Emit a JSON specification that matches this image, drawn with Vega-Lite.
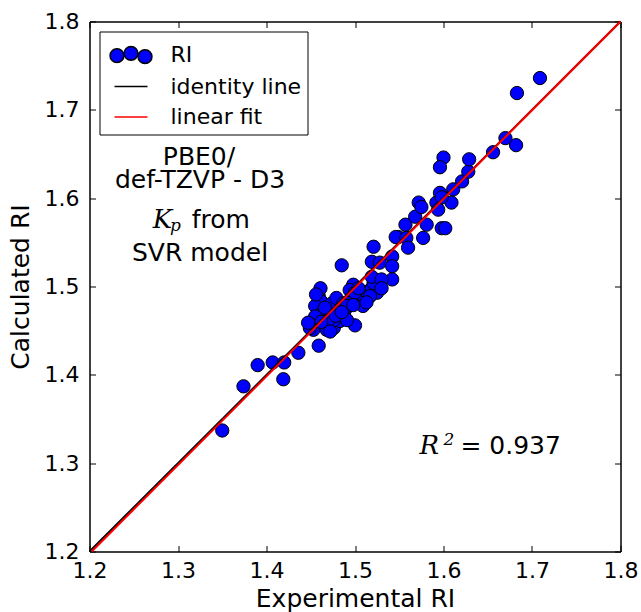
{
  "$schema": "https://vega.github.io/schema/vega-lite/v6.json",
  "width": 531,
  "height": 530,
  "autosize": "none",
  "padding": {"left": 89.5, "top": 21.5, "right": 20, "bottom": 60},
  "background": "white",
  "config": {"view": {"stroke": null}, "font": "DejaVu Sans", "axis": {"grid": false}},
  "datasets": {
    "points": [
      {"experimental": 1.350, "calculated": 1.337},
      {"experimental": 1.374, "calculated": 1.387},
      {"experimental": 1.390, "calculated": 1.411},
      {"experimental": 1.407, "calculated": 1.414},
      {"experimental": 1.420, "calculated": 1.414},
      {"experimental": 1.419, "calculated": 1.395},
      {"experimental": 1.436, "calculated": 1.425},
      {"experimental": 1.459, "calculated": 1.433},
      {"experimental": 1.485, "calculated": 1.524},
      {"experimental": 1.500, "calculated": 1.456},
      {"experimental": 1.459, "calculated": 1.489},
      {"experimental": 1.462, "calculated": 1.483},
      {"experimental": 1.455, "calculated": 1.478},
      {"experimental": 1.464, "calculated": 1.472},
      {"experimental": 1.455, "calculated": 1.466},
      {"experimental": 1.459, "calculated": 1.457},
      {"experimental": 1.453, "calculated": 1.451},
      {"experimental": 1.468, "calculated": 1.451},
      {"experimental": 1.476, "calculated": 1.453},
      {"experimental": 1.483, "calculated": 1.461},
      {"experimental": 1.481, "calculated": 1.470},
      {"experimental": 1.474, "calculated": 1.481},
      {"experimental": 1.479, "calculated": 1.487},
      {"experimental": 1.487, "calculated": 1.481},
      {"experimental": 1.489, "calculated": 1.474},
      {"experimental": 1.496, "calculated": 1.483},
      {"experimental": 1.506, "calculated": 1.493},
      {"experimental": 1.511, "calculated": 1.487},
      {"experimental": 1.513, "calculated": 1.494},
      {"experimental": 1.519, "calculated": 1.498},
      {"experimental": 1.525, "calculated": 1.493},
      {"experimental": 1.521, "calculated": 1.504},
      {"experimental": 1.519, "calculated": 1.511},
      {"experimental": 1.498, "calculated": 1.502},
      {"experimental": 1.494, "calculated": 1.496},
      {"experimental": 1.449, "calculated": 1.453},
      {"experimental": 1.447, "calculated": 1.459},
      {"experimental": 1.476, "calculated": 1.462},
      {"experimental": 1.470, "calculated": 1.462},
      {"experimental": 1.491, "calculated": 1.462},
      {"experimental": 1.461, "calculated": 1.498},
      {"experimental": 1.456, "calculated": 1.491},
      {"experimental": 1.509, "calculated": 1.478},
      {"experimental": 1.491, "calculated": 1.478},
      {"experimental": 1.517, "calculated": 1.489},
      {"experimental": 1.500, "calculated": 1.493},
      {"experimental": 1.504, "calculated": 1.498},
      {"experimental": 1.466, "calculated": 1.476},
      {"experimental": 1.478, "calculated": 1.467},
      {"experimental": 1.485, "calculated": 1.471},
      {"experimental": 1.472, "calculated": 1.449},
      {"experimental": 1.498, "calculated": 1.479},
      {"experimental": 1.513, "calculated": 1.482},
      {"experimental": 1.462, "calculated": 1.460},
      {"experimental": 1.521, "calculated": 1.545},
      {"experimental": 1.519, "calculated": 1.528},
      {"experimental": 1.528, "calculated": 1.527},
      {"experimental": 1.542, "calculated": 1.534},
      {"experimental": 1.542, "calculated": 1.523},
      {"experimental": 1.542, "calculated": 1.508},
      {"experimental": 1.530, "calculated": 1.508},
      {"experimental": 1.530, "calculated": 1.498},
      {"experimental": 1.549, "calculated": 1.556},
      {"experimental": 1.546, "calculated": 1.556},
      {"experimental": 1.558, "calculated": 1.555},
      {"experimental": 1.560, "calculated": 1.544},
      {"experimental": 1.557, "calculated": 1.570},
      {"experimental": 1.568, "calculated": 1.579},
      {"experimental": 1.581, "calculated": 1.570},
      {"experimental": 1.577, "calculated": 1.555},
      {"experimental": 1.598, "calculated": 1.566},
      {"experimental": 1.602, "calculated": 1.566},
      {"experimental": 1.572, "calculated": 1.595},
      {"experimental": 1.575, "calculated": 1.590},
      {"experimental": 1.592, "calculated": 1.595},
      {"experimental": 1.594, "calculated": 1.587},
      {"experimental": 1.609, "calculated": 1.595},
      {"experimental": 1.596, "calculated": 1.606},
      {"experimental": 1.598, "calculated": 1.601},
      {"experimental": 1.611, "calculated": 1.610},
      {"experimental": 1.621, "calculated": 1.619},
      {"experimental": 1.628, "calculated": 1.630},
      {"experimental": 1.629, "calculated": 1.644},
      {"experimental": 1.600, "calculated": 1.646},
      {"experimental": 1.596, "calculated": 1.635},
      {"experimental": 1.656, "calculated": 1.652},
      {"experimental": 1.670, "calculated": 1.668},
      {"experimental": 1.682, "calculated": 1.660},
      {"experimental": 1.683, "calculated": 1.719},
      {"experimental": 1.709, "calculated": 1.736}
    ],
    "identity": [
      {"experimental": 1.2, "calculated": 1.2},
      {"experimental": 1.8, "calculated": 1.8}
    ],
    "fit": [
      {"experimental": 1.2025, "calculated": 1.2},
      {"experimental": 1.8, "calculated": 1.8}
    ],
    "legendEntries": [
      {"series": "RI"},
      {"series": "identity line"},
      {"series": "linear fit"}
    ],
    "notes": [
      {"x": 1.3237, "y": 1.6379, "text": "PBE0/"},
      {"x": 1.3249, "y": 1.6116, "text": "def-TZVP - D3"},
      {"x": 1.3249, "y": 1.5284, "text": "SVR model"}
    ],
    "notesLeft": [
      {"x": 1.3155, "y": 1.5662, "text": "from"},
      {"x": 1.6191, "y": 1.3106, "text": "= 0.937"}
    ],
    "math": [
      {"x": 1.2714, "y": 1.5662, "text": "K"},
      {"x": 1.5728, "y": 1.3106, "text": "R"}
    ],
    "mathSmall": [
      {"x": 1.2910, "y": 1.5624, "text": "p"},
      {"x": 1.6001, "y": 1.3208, "text": "2"}
    ]
  },
  "layer": [
    {
      "data": {"name": "points"},
      "mark": {"type": "point", "shape": "circle", "filled": true, "size": 177, "fill": "blue", "stroke": "black", "strokeWidth": 1, "opacity": 1},
      "encoding": {
        "x": {
          "field": "experimental", "type": "quantitative",
          "scale": {"domain": [1.2, 1.8], "nice": false, "zero": false},
          "axis": {
            "orient": "bottom", "title": "Experimental RI",
            "values": [1.2, 1.3, 1.4, 1.5, 1.6, 1.7, 1.8], "format": ".1f",
            "tickSize": -6, "tickColor": "black", "tickWidth": 1,
            "labelPadding": 15, "labelFont": "DejaVu Sans", "labelFontSize": 22, "labelColor": "black",
            "labelFlush": false, "labelOverlap": false,
            "titleFont": "DejaVu Sans", "titleFontSize": 25, "titleFontWeight": "normal", "titleColor": "black", "titlePadding": 5,
            "domainColor": "black", "domainWidth": 1.5
          }
        },
        "y": {
          "field": "calculated", "type": "quantitative",
          "scale": {"domain": [1.2, 1.8], "nice": false, "zero": false},
          "axis": {
            "orient": "left", "title": "Calculated RI",
            "values": [1.2, 1.3, 1.4, 1.5, 1.6, 1.7, 1.8], "format": ".1f",
            "tickSize": -6, "tickColor": "black", "tickWidth": 1,
            "labelPadding": 16.5, "labelFont": "DejaVu Sans", "labelFontSize": 22, "labelColor": "black",
            "labelFlush": false, "labelOverlap": false,
            "titleFont": "DejaVu Sans", "titleFontSize": 25, "titleFontWeight": "normal", "titleColor": "black", "titlePadding": 11,
            "domainColor": "black", "domainWidth": 1.5
          }
        }
      }
    },
    {
      "data": {"name": "identity"},
      "mark": {"type": "line", "strokeWidth": 2, "color": "black"},
      "encoding": {
        "x": {
          "field": "experimental", "type": "quantitative",
          "axis": {
            "orient": "top", "title": null, "labels": false,
            "values": [1.2, 1.3, 1.4, 1.5, 1.6, 1.7, 1.8],
            "tickSize": -6, "tickColor": "black", "tickWidth": 1,
            "domainColor": "black", "domainWidth": 1.5
          }
        },
        "y": {
          "field": "calculated", "type": "quantitative",
          "axis": {
            "orient": "right", "title": null, "labels": false,
            "values": [1.2, 1.3, 1.4, 1.5, 1.6, 1.7, 1.8],
            "tickSize": -6, "tickColor": "black", "tickWidth": 1,
            "domainColor": "black", "domainWidth": 1.5
          }
        }
      }
    },
    {
      "data": {"name": "fit"},
      "mark": {"type": "line", "strokeWidth": 2, "color": "red"},
      "encoding": {
        "x": {"field": "experimental", "type": "quantitative", "axis": null},
        "y": {"field": "calculated", "type": "quantitative", "axis": null}
      }
    },
    {
      "data": {"name": "legendEntries"},
      "mark": {"type": "point", "opacity": 0},
      "encoding": {
        "fill": {
          "field": "series", "type": "nominal", "title": null,
          "scale": {"domain": ["RI", "identity line", "linear fit"], "range": ["blue", "transparent", "transparent"]},
          "legend": {
            "title": null, "orient": "top-left", "offset": 10, "padding": 6,
            "fillColor": "white", "strokeColor": "black",
            "labelFont": "DejaVu Sans", "labelFontSize": 22, "labelColor": "black", "labelOffset": 22,
            "symbolSize": 1089, "symbolStrokeWidth": 1.5, "symbolOffset": 8, "symbolOpacity": 1, "rowPadding": 1.5
          }
        },
        "stroke": {
          "field": "series", "type": "nominal", "title": null,
          "scale": {"domain": ["RI", "identity line", "linear fit"], "range": ["black", "black", "red"]},
          "legend": {
            "title": null, "orient": "top-left", "offset": 10, "padding": 6,
            "fillColor": "white", "strokeColor": "black",
            "labelFont": "DejaVu Sans", "labelFontSize": 22, "labelColor": "black", "labelOffset": 22,
            "symbolSize": 1089, "symbolStrokeWidth": 1.5, "symbolOffset": 8, "symbolOpacity": 1, "rowPadding": 1.5
          }
        },
        "shape": {
          "field": "series", "type": "nominal", "title": null,
          "scale": {"domain": ["RI", "identity line", "linear fit"], "range": ["M -1.27 0.04 A 0.42 0.42 0 1 0 -0.43 0.04 A 0.42 0.42 0 1 0 -1.27 0.04 Z M -0.42 -0.1 A 0.42 0.42 0 1 0 0.42 -0.1 A 0.42 0.42 0 1 0 -0.42 -0.1 Z M 0.43 0.1 A 0.42 0.42 0 1 0 1.27 0.1 A 0.42 0.42 0 1 0 0.43 0.1 Z", "stroke", "stroke"]},
          "legend": {
            "title": null, "orient": "top-left", "offset": 10, "padding": 6,
            "fillColor": "white", "strokeColor": "black",
            "labelFont": "DejaVu Sans", "labelFontSize": 22, "labelColor": "black", "labelOffset": 22,
            "symbolSize": 1089, "symbolStrokeWidth": 1.5, "symbolOffset": 8, "symbolOpacity": 1, "rowPadding": 1.5
          }
        }
      }
    },
    {
      "data": {"name": "notes"},
      "mark": {"type": "text", "align": "center", "baseline": "alphabetic", "font": "DejaVu Sans", "fontSize": 25, "color": "black"},
      "encoding": {
        "x": {"field": "x", "type": "quantitative", "axis": null},
        "y": {"field": "y", "type": "quantitative", "axis": null},
        "text": {"field": "text"}
      }
    },
    {
      "data": {"name": "notesLeft"},
      "mark": {"type": "text", "align": "left", "baseline": "alphabetic", "font": "DejaVu Sans", "fontSize": 25, "color": "black"},
      "encoding": {
        "x": {"field": "x", "type": "quantitative", "axis": null},
        "y": {"field": "y", "type": "quantitative", "axis": null},
        "text": {"field": "text"}
      }
    },
    {
      "data": {"name": "math"},
      "mark": {"type": "text", "align": "left", "baseline": "alphabetic", "font": "DejaVu Serif", "fontStyle": "italic", "fontSize": 26, "color": "black"},
      "encoding": {
        "x": {"field": "x", "type": "quantitative", "axis": null},
        "y": {"field": "y", "type": "quantitative", "axis": null},
        "text": {"field": "text"}
      }
    },
    {
      "data": {"name": "mathSmall"},
      "mark": {"type": "text", "align": "left", "baseline": "alphabetic", "font": "DejaVu Serif", "fontStyle": "italic", "fontSize": 17, "color": "black"},
      "encoding": {
        "x": {"field": "x", "type": "quantitative", "axis": null},
        "y": {"field": "y", "type": "quantitative", "axis": null},
        "text": {"field": "text"}
      }
    }
  ],
  "resolve": {"axis": {"x": "independent", "y": "independent"}}
}
